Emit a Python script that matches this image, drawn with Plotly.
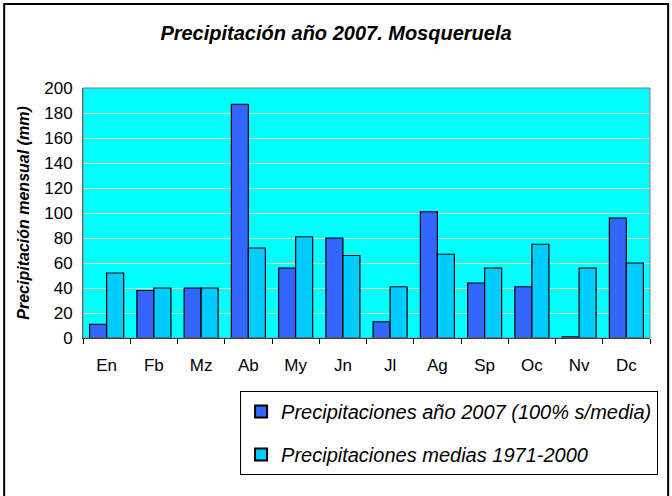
import plotly.graph_objects as go

months = ['En', 'Fb', 'Mz', 'Ab', 'My', 'Jn', 'Jl', 'Ag', 'Sp', 'Oc', 'Nv', 'Dc']
prec_2007 = [11, 38, 40, 187, 56, 80, 13, 101, 44, 41, 1, 96]
prec_media = [52, 40, 40, 72, 81, 66, 41, 67, 56, 75, 56, 60]

name_2007 = 'Precipitaciones año 2007 (100% s/media)'
name_media = 'Precipitaciones medias 1971-2000'

fig = go.Figure()

fig.add_trace(go.Bar(x=months, y=prec_2007, name=name_2007,
                     marker=dict(color='#3366FF', line=dict(color='black', width=1.2)),
                     legendgroup='a'))
fig.add_trace(go.Bar(x=months, y=prec_media, name=name_media,
                     marker=dict(color='#00CCFF', line=dict(color='black', width=1.2)),
                     legendgroup='b'))

# marco del grafico completo
fig.add_shape(type='rect', xref='paper', yref='paper',
              x0=-0.139, x1=1.032, y0=-0.66, y1=1.336,
              line=dict(color='black', width=2), layer='below')
# borde del area de trazado
fig.add_shape(type='rect', xref='paper', yref='paper',
              x0=0, x1=1, y0=0, y1=1,
              line=dict(color='#808080', width=1))

fig.update_layout(
    width=672, height=496,
    margin=dict(l=83, r=22, t=88, b=158),
    paper_bgcolor='white',
    plot_bgcolor='#00FFFF',
    barmode='group',
    bargap=0.28,
    bargroupgap=0,
    font=dict(family='Arial, Liberation Sans, sans-serif', color='black'),
    title=dict(text='Precipitación año 2007. Mosqueruela',
               xref='container', x=0.5, xanchor='center',
               yref='container', y=1 - 33 / 496, yanchor='middle',
               font=dict(size=20, weight='bold', style='italic')),
    showlegend=True,
    legend=dict(x=0.277, y=-0.212, xanchor='left', yanchor='top',
                bordercolor='black', borderwidth=1, bgcolor='white',
                font=dict(size=20, style='italic'),
                traceorder='grouped', tracegroupgap=14,
                itemsizing='constant'),
    xaxis=dict(showline=True, linecolor='black', linewidth=1,
               ticks='outside', tickson='boundaries', ticklen=5,
               tickcolor='black', tickfont=dict(size=17),
               ticklabelstandoff=12),
    yaxis=dict(range=[0, 200], dtick=20, showline=True, linecolor='#404040',
               gridcolor='#F2D6B0', gridwidth=1, zeroline=False,
               tickfont=dict(size=17), ticks='', ticklabelstandoff=6,
               title=dict(text='Precipitación mensual (mm)',
                          font=dict(size=16, weight='bold', style='italic'),
                          standoff=10)),
)

# sin el margen por defecto del body, para que la figura empiece en (0, 0)
fig.write_html('out.html', config={'displayModeBar': False},
               post_script="document.body.style.margin='0';")
